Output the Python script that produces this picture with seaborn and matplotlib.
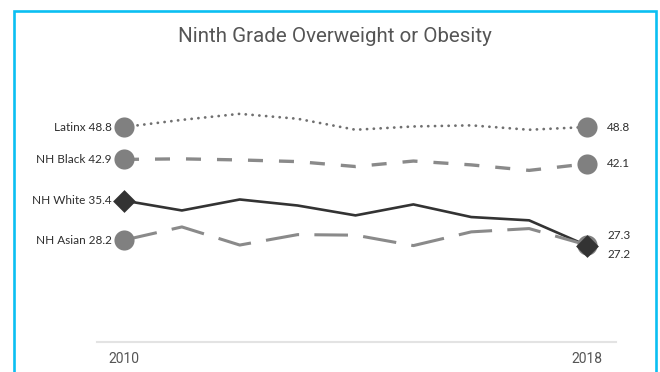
import matplotlib
matplotlib.use("Agg")
import matplotlib.pyplot as plt
from matplotlib.patches import Rectangle
import seaborn as sns
import pandas as pd

# Ninth grade overweight/obesity rates (%) by group, 2010-2018
years = [2010, 2011, 2012, 2013, 2014, 2015, 2016, 2017, 2018]
latinx = [48.8, 50.1, 51.2, 50.3, 48.3, 48.9, 49.1, 48.3, 48.8]
nh_black = [42.9, 43.0, 42.8, 42.5, 41.6, 42.6, 41.9, 40.9, 42.1]
nh_white = [35.4, 33.6, 35.6, 34.5, 32.7, 34.7, 32.4, 31.8, 27.2]
nh_asian = [28.2, 30.6, 27.3, 29.2, 29.1, 27.2, 29.7, 30.3, 27.3]

groups = ["Latinx", "NH Black", "NH White", "NH Asian"]
series = [latinx, nh_black, nh_white, nh_asian]
tick_years = [2010, 2018]

sns.set_theme(style="white")
plt.rcParams["font.family"] = ["Lato", "DejaVu Sans"]

fig = plt.figure(figsize=(6.6, 3.72), dpi=100)
ax = fig.add_axes([97 / 660, 30 / 372, (616 - 97) / 660, (272 - 30) / 372])

styles = {
    "Latinx":   dict(color="#707070", lw=2.0, ls=(0, (0.05, 2.4)), dash_capstyle="round"),
    "NH Black": dict(color="#8a8a8a", lw=2.4, ls=(0, (4.5, 4.8)), dash_capstyle="butt"),
    "NH White": dict(color="#333333", lw=1.9, ls="-", dash_capstyle="butt"),
    "NH Asian": dict(color="#8a8a8a", lw=2.2, ls=(0, (11.0, 5.0)), dash_capstyle="butt"),
}

for name, vals in zip(groups, series):
    df = pd.DataFrame({"year": years, "value": vals})
    st = styles[name]
    sns.lineplot(data=df, x="year", y="value", ax=ax, color=st["color"],
                 linewidth=st["lw"], linestyle=st["ls"],
                 dash_capstyle=st["dash_capstyle"], solid_capstyle="round",
                 legend=False, zorder=2)

# End-point markers
marker_gray = "#808080"
for name, vals in zip(groups, series):
    ends = pd.DataFrame({"year": [years[0], years[-1]], "value": [vals[0], vals[-1]]})
    if name == "NH White":
        sns.scatterplot(data=ends, x="year", y="value", ax=ax, marker="D", s=135,
                        color="#333333", edgecolor="#333333", linewidth=0, zorder=5)
    else:
        sns.scatterplot(data=ends, x="year", y="value", ax=ax, marker="o", s=210,
                        color=marker_gray, edgecolor=marker_gray, linewidth=0, zorder=4)

# Labels at both ends; NH Asian (27.3) sits above NH White (27.2) at the right end
label_color = "#2e2e2e"
right_offsets = {"Latinx": 0, "NH Black": 0, "NH White": -9, "NH Asian": 10}
for name, vals in zip(groups, series):
    ax.annotate(f"{name} {vals[0]:.1f}", xy=(years[0], vals[0]), xytext=(-12, 0),
                textcoords="offset pixels", ha="right", va="center",
                fontsize=8.5, color=label_color)
    ax.annotate(f"{vals[-1]:.1f}", xy=(years[-1], vals[-1]),
                xytext=(20, right_offsets[name]), textcoords="offset pixels",
                ha="left", va="center", fontsize=8.5, color=label_color)

ax.set_xlim(2010 - 27 / 57.875, 2018 + 29 / 57.875)
ax.set_ylim(9.64, 53.72)
ax.set_xticks(tick_years)
ax.set_xticklabels([str(y) for y in tick_years], fontfamily="Roboto",
                   fontsize=10, color="#555555")
ax.set_yticks([])
ax.set_xlabel("")
ax.set_ylabel("")
ax.tick_params(axis="x", length=0, pad=7)
for side in ["top", "right", "left"]:
    ax.spines[side].set_visible(False)
ax.spines["bottom"].set_color("#e3e3e3")
ax.spines["bottom"].set_linewidth(1.5)

fig.text(335 / 660, 1 - 37 / 372, "Ninth Grade Overweight or Obesity",
         ha="center", va="center", fontsize=14.8, color="#555555", fontfamily="Roboto")

# Card border
fig.add_artist(Rectangle((14 / 660, -0.2), (656 - 14) / 660, 1.2 - 11 / 372,
                         transform=fig.transFigure, fill=False,
                         edgecolor="#0bbff2", linewidth=1.9, clip_on=False))

fig.savefig("out.png", dpi=100)
